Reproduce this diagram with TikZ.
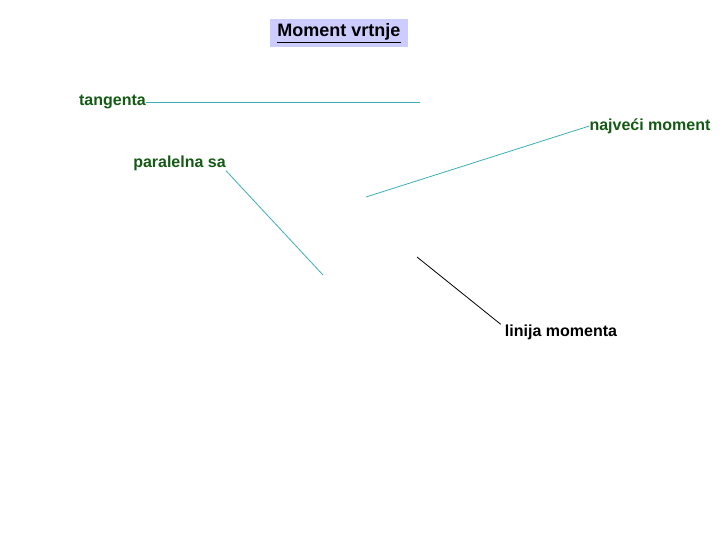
\documentclass[tikz,border=0pt]{standalone}
\usepackage{fontspec}
\setmainfont{Liberation Sans}
\definecolor{lblgreen}{RGB}{20,90,20}
\definecolor{linecyan}{RGB}{60,175,180}
\definecolor{titlefill}{RGB}{204,204,255}
\tikzset{
  lbl/.style={inner sep=0pt, font=\fontsize{16}{18}\selectfont\bfseries, text=lblgreen},
  lead/.style={draw=linecyan, line width=0.8pt}
}
\begin{document}
\begin{tikzpicture}[x=1pt,y=-1pt]
      \useasboundingbox (0,0) rectangle (720,540);
      \node[fill=titlefill, minimum width=138pt, minimum height=28pt, inner sep=0pt,
            font=\fontsize{18}{20}\selectfont\bfseries] (title) at (339,33) {\underline{Moment vrtnje}};
      \draw
        (112.5,102) node[lbl] (tan){tangenta}
        (650,126) node[lbl] (najv){najveći moment}
        (179.5,163) node[lbl] (par){paralelna sa}
        (561,332) node[lbl, text=black] (lin){linija momenta};
      \coordinate (tanend) at (420,102);
      \coordinate (najvend) at (366,197);
      \coordinate (parend) at (323,275);
      \coordinate (linend) at (417,257);
      \begin{scope}[-]
        \draw[lead] (tan.east) to (tan.east -| tanend);
        \draw[lead] (najv.west) to (najvend);
        \draw[lead] (par.south east) to (parend);
        \draw[line width=0.8pt] ([xshift=-4pt]lin.north west) to (linend);
      \end{scope}
    \end{tikzpicture}
\end{document}
